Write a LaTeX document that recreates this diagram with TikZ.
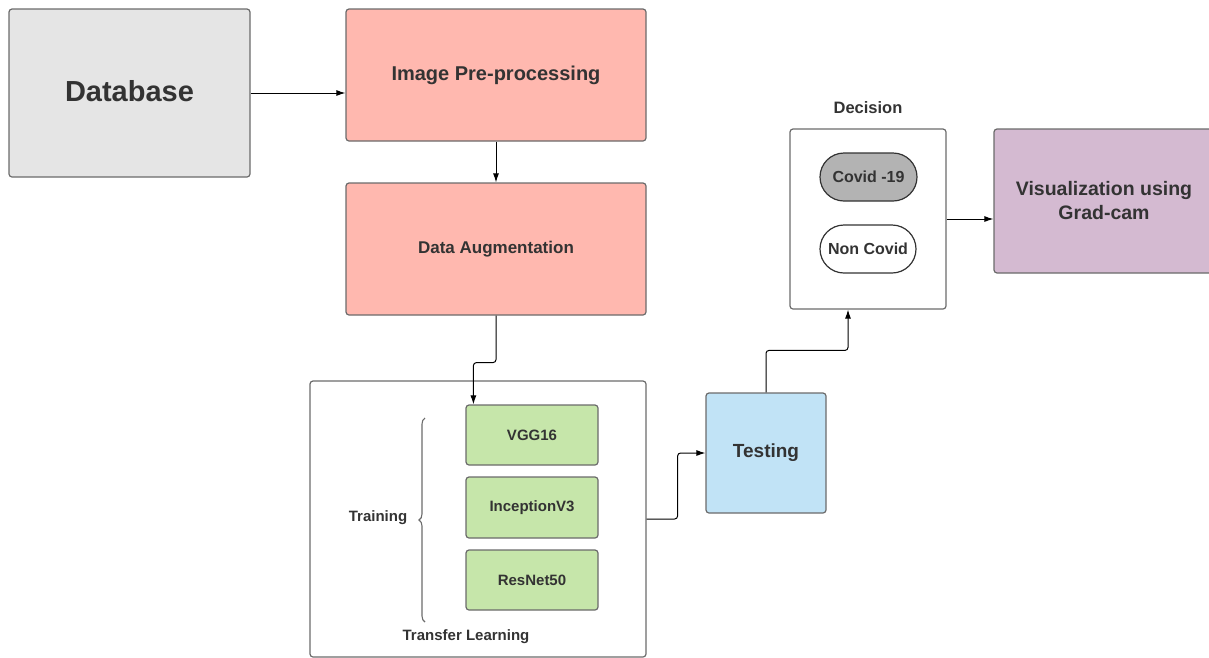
\documentclass[tikz,border=0pt]{standalone}
\usepackage{fontspec}
\setmainfont{Liberation Sans}
\usepackage{tikz}
\usetikzlibrary{arrows.meta, positioning, calc, decorations.pathreplacing}
\definecolor{txt-gray}{HTML}{333333}
\definecolor{edge-gray}{HTML}{6B6B6B}
\definecolor{db-gray}{HTML}{E5E5E5}
\definecolor{pre-red}{HTML}{FFB8AF}
\definecolor{net-green}{HTML}{C6E6AA}
\definecolor{test-blue}{HTML}{C1E3F6}
\definecolor{vis-purple}{HTML}{D4BAD1}
\definecolor{covid-gray}{HTML}{B3B3B3}

\begin{document}
\begin{tikzpicture}[x=1pt, y=-1pt,
    every node/.style={text=txt-gray, font=\bfseries},
    block/.style={draw=edge-gray, line width=1.2pt, rounded corners=3pt, inner sep=0pt, align=center},
    pill/.style={draw=black!80, line width=1.2pt, rounded corners=24pt, inner sep=0pt,
        minimum width=97pt, minimum height=48pt, font=\bfseries\fontsize{16}{18}\selectfont},
    net/.style={block, fill=net-green, minimum width=132pt, minimum height=60pt,
        font=\bfseries\fontsize{15}{18}\selectfont},
    conn/.style={line width=1pt, rounded corners=3pt, -{Latex[length=9pt, width=6pt]}}]
    \useasboundingbox (0,0) rectangle (1209,657);
    \clip (0,0) rectangle (1209,657);

    % Entrada e pre-processamento
    \node[block, fill=db-gray, minimum width=241pt, minimum height=168pt,
        font=\bfseries\fontsize{29}{34}\selectfont] (db) at (129.5,93) {\raisebox{4pt}{Database}};
    \node[block, fill=pre-red, minimum width=300pt, minimum height=132pt,
        font=\bfseries\fontsize{20}{24}\selectfont] (pre) at (496,75) {\raisebox{2pt}{Image Pre-processing}};
    \node[block, fill=pre-red, minimum width=300pt, minimum height=132pt,
        font=\bfseries\fontsize{17}{20}\selectfont] (aug) at (496,249) {\raisebox{2pt}{Data Augmentation}};

    % Transfer learning
    \node[block, minimum width=336pt, minimum height=276pt] (tl) at (478,519) {};
    \node[net] (vgg) at (532,435) {VGG16};
    \node[net, minimum height=61pt] (inc) at (532,507.5) {InceptionV3};
    \node[net] (res) at (532,580) {ResNet50};
    \node[font=\bfseries\fontsize{15}{18}\selectfont] (train) at (378,518) {Training};
    \node[font=\bfseries\fontsize{15}{18}\selectfont] (tllabel) at (466,637) {Transfer Learning};
    \coordinate (brtop) at (425,418);
    \coordinate (brbot) at (425,622);
    \draw[edge-gray, line width=1.1pt, decorate, decoration={brace, amplitude=6pt}] (brbot) -- (brtop);

    % Teste e decisao
    \node[block, fill=test-blue, minimum width=120pt, minimum height=120pt,
        font=\bfseries\fontsize{19}{22}\selectfont] (test) at (766,453) {Testing};
    \node[block, minimum width=156pt, minimum height=180pt] (dec) at (868,219) {};
    \node[font=\bfseries\fontsize{16.5}{20}\selectfont] (declabel) at (868,108) {Decision};
    \node[pill, fill=covid-gray] (cov) at (868.5,177) {Covid -19};
    \node[pill, fill=white, minimum width=96pt] (non) at (868,249) {Non Covid};
    \node[block, fill=vis-purple, minimum width=220pt, minimum height=144pt,
        font=\bfseries\fontsize{19.5}{24}\selectfont] (vis) at (1104,201) {Visualization using\\Grad-cam};

    % Conexoes
    \draw[conn] (db.east) -- (db.east -| pre.west);
    \draw[conn] (pre.south) -- (aug.north);
    \draw[conn] (aug.south) -- ++(0,47) -| ([xshift=8pt]vgg.north west);
    \draw[conn] (tl.east) -- ++(31,0) |- (test.west);
    \draw[conn] (test.north) -- ++(0,-42) -| ([xshift=-20pt]dec.south);
    \draw[conn] (dec.east) -- (dec.east -| vis.west);
\end{tikzpicture}
\end{document}
